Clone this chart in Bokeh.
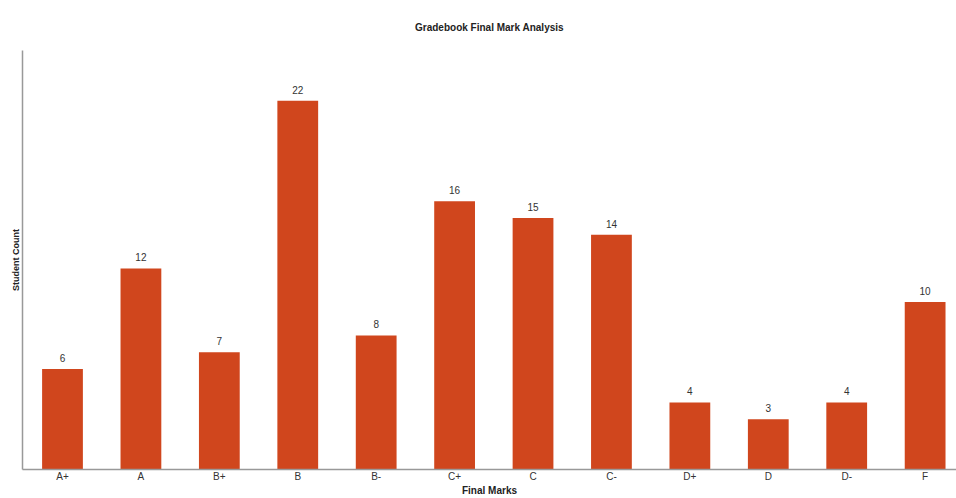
from bokeh.plotting import figure
from bokeh.models import ColumnDataSource, Range1d, FixedTicker, LabelSet
from bokeh.core.properties import value
from bokeh.embed import file_html
from bokeh.resources import INLINE

categories = ["A+", "A", "B+", "B", "B-", "C+", "C", "C-", "D+", "D", "D-", "F"]
counts = [6, 12, 7, 22, 8, 16, 15, 14, 4, 3, 4, 10]
title_text = "Gradebook Final Mark Analysis"

positions = list(range(len(categories)))
src = ColumnDataSource(dict(x=positions, top=counts, label=[str(c) for c in counts]))

FONT = "Liberation Sans"

p = figure(width=956, height=498, output_backend="svg", toolbar_location=None,
           x_range=Range1d(-0.51, 11.40), y_range=Range1d(0, 25),
           title=title_text,
           min_border_left=22, min_border_right=0, min_border_top=50, min_border_bottom=0)

p.vbar(x="x", top="top", width=0.52, source=src, fill_color="#D0461D", line_color=None)

labels = LabelSet(x="x", y="top", text="label", source=src, y_offset=7,
                  text_align="center", text_baseline="bottom",
                  text_font=value(FONT), text_font_size=value("10px"), text_color="#333333")
p.add_layout(labels)

p.title.align = "center"
p.title.text_font = FONT
p.title.text_font_size = "10px"
p.title.text_font_style = "bold"
p.title.text_color = "#222222"
p.title.standoff = 36

p.xgrid.visible = False
p.ygrid.visible = False
p.outline_line_color = None

p.xaxis.ticker = FixedTicker(ticks=positions)
p.xaxis.major_label_overrides = {i: c for i, c in enumerate(categories)}
p.xaxis.major_tick_line_color = None
p.xaxis.minor_tick_line_color = None
p.xaxis.major_tick_out = 0
p.xaxis.major_tick_in = 0
p.xaxis.major_label_standoff = 1
p.xaxis.major_label_text_font = FONT
p.xaxis.major_label_text_font_size = "10px"
p.xaxis.major_label_text_color = "#333333"
p.xaxis.axis_label = "Final Marks"
p.xaxis.axis_label_text_font = FONT
p.xaxis.axis_label_text_font_size = "10px"
p.xaxis.axis_label_text_font_style = "bold"
p.xaxis.axis_label_text_color = "#222222"
p.xaxis.axis_label_standoff = 0
p.xaxis.axis_line_color = "#999999"
p.xaxis.axis_line_width = 1.5

p.yaxis.ticker = FixedTicker(ticks=[])
p.yaxis.major_tick_line_color = None
p.yaxis.minor_tick_line_color = None
p.yaxis.major_tick_out = 0
p.yaxis.major_label_standoff = 0
p.yaxis.axis_label = "Student Count"
p.yaxis.axis_label_text_font = FONT
p.yaxis.axis_label_text_font_size = "9px"
p.yaxis.axis_label_text_font_style = "bold"
p.yaxis.axis_label_text_color = "#222222"
p.yaxis.axis_label_standoff = 2
p.yaxis.axis_line_color = "#999999"
p.yaxis.axis_line_width = 1.5

open("out.html", "w").write(file_html(p, INLINE))
